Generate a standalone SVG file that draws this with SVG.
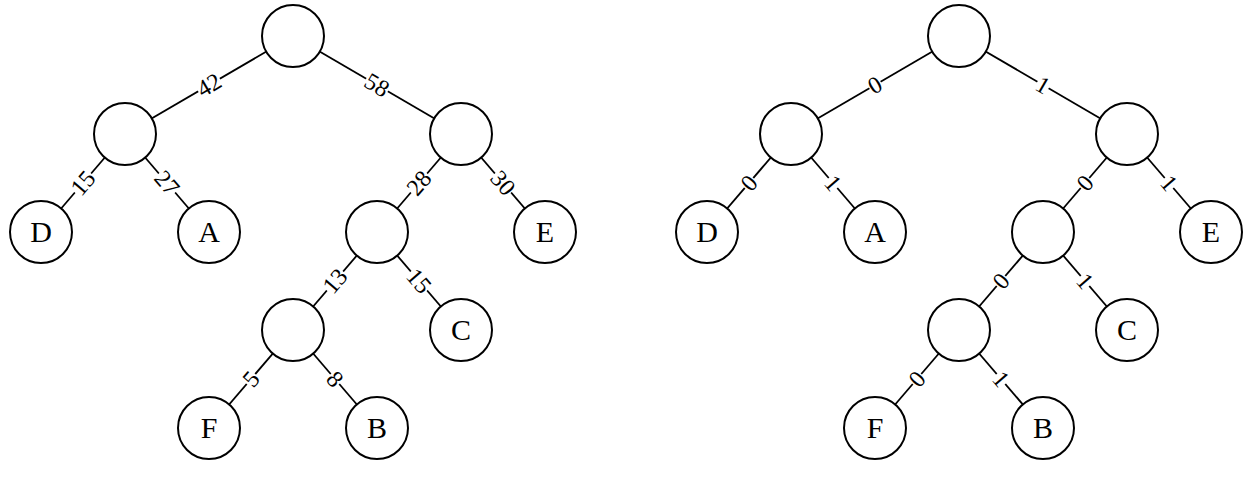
<svg xmlns="http://www.w3.org/2000/svg" width="1257" height="489" viewBox="0 0 1257 489">
<style>
.e{stroke:#000;stroke-width:1.8;fill:none}
.n{fill:#fff;stroke:#000;stroke-width:2}
.t{font-family:"Liberation Serif","Times New Roman",serif;font-size:30px;text-anchor:middle;fill:#000}
.l{font-family:"Liberation Serif","Times New Roman",serif;font-size:24px;text-anchor:middle;fill:#000}
.b{fill:#fff;stroke:none}
</style>
<rect width="1257" height="489" fill="#fff"/>
<g id="connectors">
<line class="e" x1="293" y1="36" x2="125" y2="134"/>
<line class="e" x1="293" y1="36" x2="461" y2="134"/>
<line class="e" x1="125" y1="134" x2="41" y2="232"/>
<line class="e" x1="125" y1="134" x2="209" y2="232"/>
<line class="e" x1="461" y1="134" x2="377" y2="232"/>
<line class="e" x1="461" y1="134" x2="545" y2="232"/>
<line class="e" x1="377" y1="232" x2="293" y2="330"/>
<line class="e" x1="377" y1="232" x2="461" y2="330"/>
<line class="e" x1="293" y1="330" x2="209" y2="428"/>
<line class="e" x1="293" y1="330" x2="377" y2="428"/>
<line class="e" x1="959" y1="36" x2="791" y2="134"/>
<line class="e" x1="959" y1="36" x2="1127" y2="134"/>
<line class="e" x1="791" y1="134" x2="707" y2="232"/>
<line class="e" x1="791" y1="134" x2="875" y2="232"/>
<line class="e" x1="1127" y1="134" x2="1043" y2="232"/>
<line class="e" x1="1127" y1="134" x2="1211" y2="232"/>
<line class="e" x1="1043" y1="232" x2="959" y2="330"/>
<line class="e" x1="1043" y1="232" x2="1127" y2="330"/>
<line class="e" x1="959" y1="330" x2="875" y2="428"/>
<line class="e" x1="959" y1="330" x2="1043" y2="428"/>
<g transform="translate(209,85) rotate(-30.26)"><rect class="b" x="-12.5" y="-8" width="25" height="16"/><text class="l" y="8">42</text></g>
<g transform="translate(377,85) rotate(30.26)"><rect class="b" x="-12.5" y="-8" width="25" height="16"/><text class="l" y="8">58</text></g>
<g transform="translate(83,183) rotate(-49.4)"><rect class="b" x="-12.5" y="-8" width="25" height="16"/><text class="l" y="8">15</text></g>
<g transform="translate(167,183) rotate(49.4)"><rect class="b" x="-12.5" y="-8" width="25" height="16"/><text class="l" y="8">27</text></g>
<g transform="translate(419,183) rotate(-49.4)"><rect class="b" x="-12.5" y="-8" width="25" height="16"/><text class="l" y="8">28</text></g>
<g transform="translate(503,183) rotate(49.4)"><rect class="b" x="-12.5" y="-8" width="25" height="16"/><text class="l" y="8">30</text></g>
<g transform="translate(335,281) rotate(-49.4)"><rect class="b" x="-12.5" y="-8" width="25" height="16"/><text class="l" y="8">13</text></g>
<g transform="translate(419,281) rotate(49.4)"><rect class="b" x="-12.5" y="-8" width="25" height="16"/><text class="l" y="8">15</text></g>
<g transform="translate(251,379) rotate(-49.4)"><rect class="b" x="-6.5" y="-8" width="13" height="16"/><text class="l" y="8">5</text></g>
<g transform="translate(335,379) rotate(49.4)"><rect class="b" x="-6.5" y="-8" width="13" height="16"/><text class="l" y="8">8</text></g>
<g transform="translate(875,85) rotate(-30.26)"><rect class="b" x="-6.5" y="-8" width="13" height="16"/><text class="l" y="8">0</text></g>
<g transform="translate(1043,85) rotate(30.26)"><rect class="b" x="-6.5" y="-8" width="13" height="16"/><text class="l" y="8">1</text></g>
<g transform="translate(749,183) rotate(-49.4)"><rect class="b" x="-6.5" y="-8" width="13" height="16"/><text class="l" y="8">0</text></g>
<g transform="translate(833,183) rotate(49.4)"><rect class="b" x="-6.5" y="-8" width="13" height="16"/><text class="l" y="8">1</text></g>
<g transform="translate(1085,183) rotate(-49.4)"><rect class="b" x="-6.5" y="-8" width="13" height="16"/><text class="l" y="8">0</text></g>
<g transform="translate(1169,183) rotate(49.4)"><rect class="b" x="-6.5" y="-8" width="13" height="16"/><text class="l" y="8">1</text></g>
<g transform="translate(1001,281) rotate(-49.4)"><rect class="b" x="-6.5" y="-8" width="13" height="16"/><text class="l" y="8">0</text></g>
<g transform="translate(1085,281) rotate(49.4)"><rect class="b" x="-6.5" y="-8" width="13" height="16"/><text class="l" y="8">1</text></g>
<g transform="translate(917,379) rotate(-49.4)"><rect class="b" x="-6.5" y="-8" width="13" height="16"/><text class="l" y="8">0</text></g>
<g transform="translate(1001,379) rotate(49.4)"><rect class="b" x="-6.5" y="-8" width="13" height="16"/><text class="l" y="8">1</text></g>
</g>
<g id="L_root"><circle class="n" cx="293" cy="36" r="31"/></g>
<g id="L_n1"><circle class="n" cx="125" cy="134" r="31"/></g>
<g id="L_n2"><circle class="n" cx="461" cy="134" r="31"/></g>
<g id="L_D"><circle class="n" cx="41" cy="232" r="31"/><text class="t" x="41" y="242">D</text></g>
<g id="L_A"><circle class="n" cx="209" cy="232" r="31"/><text class="t" x="209" y="242">A</text></g>
<g id="L_n3"><circle class="n" cx="377" cy="232" r="31"/></g>
<g id="L_E"><circle class="n" cx="545" cy="232" r="31"/><text class="t" x="545" y="242">E</text></g>
<g id="L_n4"><circle class="n" cx="293" cy="330" r="31"/></g>
<g id="L_C"><circle class="n" cx="461" cy="330" r="31"/><text class="t" x="461" y="340">C</text></g>
<g id="L_F"><circle class="n" cx="209" cy="428" r="31"/><text class="t" x="209" y="438">F</text></g>
<g id="L_B"><circle class="n" cx="377" cy="428" r="31"/><text class="t" x="377" y="438">B</text></g>
<g id="R_root"><circle class="n" cx="959" cy="36" r="31"/></g>
<g id="R_n1"><circle class="n" cx="791" cy="134" r="31"/></g>
<g id="R_n2"><circle class="n" cx="1127" cy="134" r="31"/></g>
<g id="R_D"><circle class="n" cx="707" cy="232" r="31"/><text class="t" x="707" y="242">D</text></g>
<g id="R_A"><circle class="n" cx="875" cy="232" r="31"/><text class="t" x="875" y="242">A</text></g>
<g id="R_n3"><circle class="n" cx="1043" cy="232" r="31"/></g>
<g id="R_E"><circle class="n" cx="1211" cy="232" r="31"/><text class="t" x="1211" y="242">E</text></g>
<g id="R_n4"><circle class="n" cx="959" cy="330" r="31"/></g>
<g id="R_C"><circle class="n" cx="1127" cy="330" r="31"/><text class="t" x="1127" y="340">C</text></g>
<g id="R_F"><circle class="n" cx="875" cy="428" r="31"/><text class="t" x="875" y="438">F</text></g>
<g id="R_B"><circle class="n" cx="1043" cy="428" r="31"/><text class="t" x="1043" y="438">B</text></g>
</svg>
